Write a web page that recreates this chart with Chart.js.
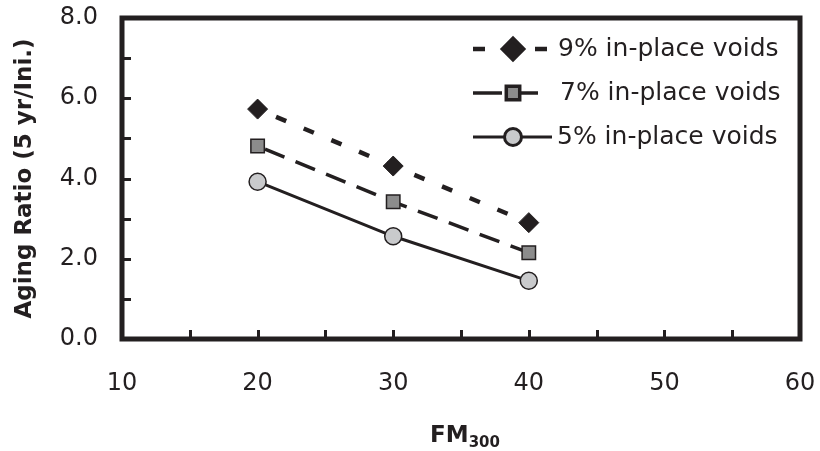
<!DOCTYPE html>
<html>
<head>
<meta charset="utf-8">
<script src="https://cdn.jsdelivr.net/npm/chart.js@4/dist/chart.umd.min.js"></script>
<style>
  html, body { margin: 0; padding: 0; background: #ffffff; }
  #wrap { width: 820px; height: 451px; }
</style>
</head>
<body>
<div id="wrap"><canvas id="chart" width="820" height="451"></canvas></div>
<script>
// FM300 values where the aging ratio was measured
const fmValues = [20, 30, 40];

// Aging ratio (5 yr / initial) for each in-place void level
const voids9 = [5.73, 4.31, 2.90];
const voids7 = [4.81, 3.42, 2.15];
const voids5 = [3.92, 2.56, 1.45];

const seriesLabels = ['9% in-place voids', '7% in-place voids', '5% in-place voids'];

// Labelled ticks (minor ticks are drawn in between without labels)
const xTickLabels = [10, 20, 30, 40, 50, 60];
const yTickLabels = [0, 2, 4, 6, 8];

const INK = '#231f20';
const FONT = 'DejaVu Sans';

const toPoints = (vals) => fmValues.map((x, i) => ({ x: x, y: vals[i] }));

// Frame around the plot area with inward-pointing tick marks
const framePlugin = {
  id: 'frame',
  afterDatasetsDraw(chart) {
    const { ctx, chartArea: a, scales } = chart;
    ctx.save();
    ctx.strokeStyle = INK;
    ctx.lineCap = 'butt';
    ctx.lineWidth = 3;
    const tickLen = 7;
    scales.y.ticks.forEach(t => {
      if (t.value <= scales.y.min || t.value >= scales.y.max) return;
      const py = Math.round(scales.y.getPixelForValue(t.value)) + 0.5;
      ctx.beginPath();
      ctx.moveTo(a.left, py);
      ctx.lineTo(a.left + tickLen + 2, py);
      ctx.stroke();
    });
    scales.x.ticks.forEach(t => {
      if (t.value <= scales.x.min || t.value >= scales.x.max) return;
      const px = Math.round(scales.x.getPixelForValue(t.value)) + 0.5;
      ctx.beginPath();
      ctx.moveTo(px, a.bottom);
      ctx.lineTo(px, a.bottom - tickLen - 2);
      ctx.stroke();
    });
    ctx.lineWidth = 5;
    ctx.lineJoin = 'miter';
    ctx.strokeRect(a.left, a.top, a.right - a.left, a.bottom - a.top);
    ctx.restore();
  }
};

// Legend inside the plot: line sample, marker and label for each series
const legendRows = [
  { y: 49, x0: 473, x1: 552, mx: 513, dash: [12, 19], textX: 558 },
  { y: 93, x0: 473, x1: 538, mx: 513, dash: [29, 100], textX: 560 },
  { y: 137, x0: 473, x1: 552, mx: 513, dash: [], textX: 557 }
];
const legendPlugin = {
  id: 'boxLegend',
  afterDraw(chart) {
    const { ctx } = chart;
    ctx.save();
    chart.data.datasets.forEach((ds, i) => {
      const r = legendRows[i];
      ctx.strokeStyle = ds.borderColor;
      ctx.lineWidth = ds.borderWidth;
      ctx.setLineDash(r.dash);
      ctx.beginPath();
      ctx.moveTo(r.x0, r.y);
      ctx.lineTo(r.x1, r.y);
      ctx.stroke();
      if (i === 1) {
        ctx.setLineDash([]);
        ctx.beginPath();
        ctx.moveTo(r.mx, r.y);
        ctx.lineTo(r.x1, r.y);
        ctx.stroke();
      }
      ctx.setLineDash([]);
      ctx.fillStyle = ds.pointBackgroundColor;
      ctx.strokeStyle = ds.pointBorderColor;
      Chart.helpers.drawPoint(ctx, {
        pointStyle: ds.pointStyle,
        radius: ds.pointRadius,
        borderWidth: ds.pointBorderWidth,
        rotation: 0
      }, r.mx, r.y);
      ctx.fillStyle = INK;
      ctx.font = '25px "' + FONT + '"';
      ctx.textAlign = 'left';
      ctx.textBaseline = 'middle';
      ctx.fillText(ds.label, r.textX, r.y);
    });
    ctx.restore();
  }
};

// X axis title with subscripted "300"
const xTitlePlugin = {
  id: 'xTitle',
  afterDraw(chart) {
    const { ctx, chartArea: a } = chart;
    ctx.save();
    ctx.fillStyle = INK;
    ctx.textBaseline = 'alphabetic';
    ctx.textAlign = 'left';
    const main = 'FM', sub = '300';
    ctx.font = 'bold 23px "' + FONT + '"';
    const w1 = ctx.measureText(main).width;
    ctx.font = 'bold 15px "' + FONT + '"';
    const w2 = ctx.measureText(sub).width;
    const cx = (a.left + a.right) / 2 + 4;
    const x0 = cx - (w1 + w2) / 2;
    ctx.font = 'bold 23px "' + FONT + '"';
    ctx.fillText(main, x0, 442);
    ctx.font = 'bold 15px "' + FONT + '"';
    ctx.fillText(sub, x0 + w1, 447);
    ctx.restore();
  }
};

new Chart(document.getElementById('chart'), {
  type: 'line',
  data: {
    datasets: [
      {
        label: seriesLabels[0],
        data: toPoints(voids9),
        borderColor: INK,
        borderWidth: 4.5,
        borderDash: [11, 19],
        borderDashOffset: -20,
        pointStyle: 'rectRot',
        pointRadius: 10,
        pointBackgroundColor: INK,
        pointBorderColor: INK,
        pointBorderWidth: 1,
        fill: false,
        tension: 0
      },
      {
        label: seriesLabels[1],
        data: toPoints(voids7),
        borderColor: INK,
        borderWidth: 3.5,
        borderDash: [21, 12],
        borderDashOffset: -8,
        pointStyle: 'rect',
        pointRadius: 9.5,
        pointBackgroundColor: '#8c8c8c',
        pointBorderColor: INK,
        pointBorderWidth: 1.5,
        fill: false,
        tension: 0
      },
      {
        label: seriesLabels[2],
        data: toPoints(voids5),
        borderColor: INK,
        borderWidth: 3,
        pointStyle: 'circle',
        pointRadius: 8.5,
        pointBackgroundColor: '#c9cacc',
        pointBorderColor: INK,
        pointBorderWidth: 1.5,
        fill: false,
        tension: 0
      }
    ]
  },
  options: {
    responsive: false,
    animation: false,
    devicePixelRatio: 1,
    layout: { padding: { top: 18, right: 20, left: 0, bottom: 0 } },
    plugins: {
      legend: { display: false },
      tooltip: { enabled: false }
    },
    scales: {
      x: {
        type: 'linear',
        min: 10,
        max: 60,
        afterFit(scale) {
          scale.height = 112;
          scale.paddingLeft = 0;
          scale.paddingRight = 0;
        },
        grid: { display: false, drawTicks: false },
        border: { display: false },
        ticks: {
          stepSize: 5,
          autoSkip: false,
          maxRotation: 0,
          padding: 30,
          color: INK,
          font: { family: FONT, size: 24 },
          callback: (v) => xTickLabels.includes(v) ? String(v) : ''
        },
        title: { display: false }
      },
      y: {
        min: 0,
        max: 8,
        afterFit(scale) {
          scale.width = 122;
          scale.paddingTop = 0;
          scale.paddingBottom = 0;
        },
        grid: { display: false, drawTicks: false },
        border: { display: false },
        ticks: {
          stepSize: 1,
          autoSkip: false,
          padding: 24,
          color: INK,
          font: { family: FONT, size: 24 },
          callback: (v) => yTickLabels.includes(v) ? v.toFixed(1) : ''
        },
        title: {
          display: true,
          text: 'Aging Ratio (5 yr/Ini.)',
          color: INK,
          font: { family: FONT, size: 23, weight: 'bold' },
          padding: { top: 11, bottom: 0 }
        }
      }
    }
  },
  plugins: [framePlugin, legendPlugin, xTitlePlugin]
});
</script>
</body>
</html>
